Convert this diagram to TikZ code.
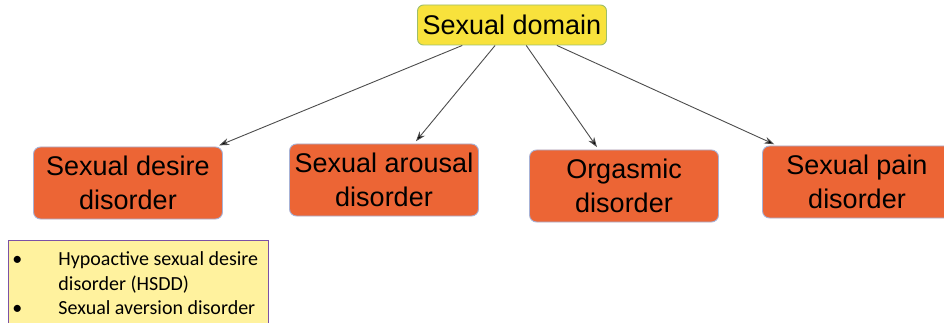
\documentclass[tikz,border=0pt]{standalone}
\usepackage{fontspec}
\setmainfont{Liberation Sans}
\newfontfamily\notefont{Carlito}
\usetikzlibrary{positioning,arrows.meta}

\definecolor{domyellow}{HTML}{F8E23C}
\definecolor{domedge}{HTML}{9DBE6A}
\definecolor{disorange}{HTML}{EC6535}
\definecolor{disedge}{HTML}{A7B2D6}
\definecolor{notefill}{HTML}{FFF29E}
\definecolor{noteedge}{HTML}{7B52A6}

\tikzset{
  dombox/.style={draw=domedge, fill=domyellow, rounded corners=6pt, minimum width=189pt, minimum height=40pt, inner sep=2pt, font=\fontsize{27}{32}\selectfont},
  disbox/.style={draw=disedge, fill=disorange, rounded corners=7pt, minimum width=189pt, minimum height=72pt, inner sep=2pt, align=center, font=\fontsize{27}{34}\selectfont},
  notebox/.style={draw=noteedge, line width=0.8pt, fill=notefill, anchor=north west, minimum width=260pt, minimum height=100pt, inner sep=0pt},
  notetext/.style={anchor=north west, inner sep=0pt, font=\notefont\fontsize{20}{24.5}\selectfont}
}

\begin{document}
\begin{tikzpicture}[x=1pt, y=-1pt, shorten >=3pt, line width=0.9pt]
  \useasboundingbox (0,0) rectangle (944,323);
  \clip (0,0) rectangle (944,323);

  \node (S0) [dombox] at (512,25) {Sexual domain};
  \node (S1) [disbox] at (128,183) {Sexual desire\\disorder};
  \node (S2) [disbox] at (384,180) {Sexual arousal\\disorder};
  \node (S3) [disbox] at (624,186) {Orgasmic\\disorder};
  \node (S4) [disbox] at (857,182) {Sexual pain\\disorder};

  \node (N1) [notebox] at (8,240) {};
  \node (N2) [notetext] at (9,248) {%
    \begin{tabular}{@{}p{49pt}@{}l@{}}
      \hspace{3pt}\textbullet & Hypoactive sexual desire\\
                              & disorder (HSDD)\\
      \hspace{3pt}\textbullet & Sexual aversion disorder
    \end{tabular}};

  \path[draw=black!70, -{Stealth[length=10pt,width=7pt,fill=black]}]
    (S0) edge (S1)
    (S0) edge (S2)
    (S0) edge (S3)
    (S0) edge (S4);
\end{tikzpicture}
\end{document}
